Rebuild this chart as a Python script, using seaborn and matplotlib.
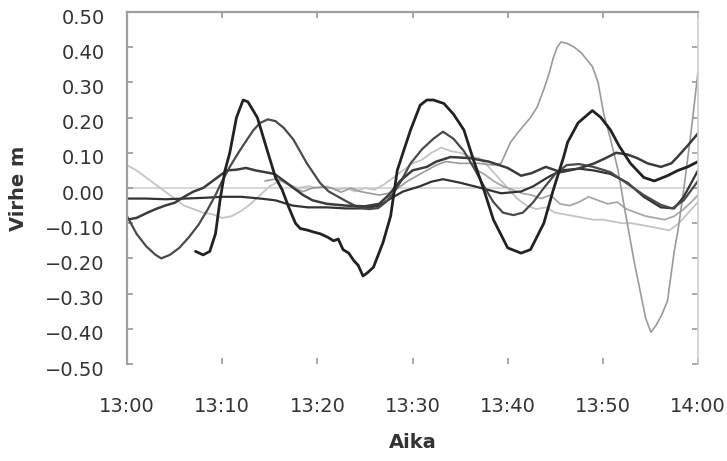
import matplotlib
matplotlib.use("Agg")
import matplotlib.pyplot as plt
import matplotlib.transforms as mtransforms
import seaborn as sns
import pandas as pd

# ---------------- data (minutes after 13:00, error in metres) ----------------
S1_T = [7.2, 8.0, 8.7, 9.3, 9.8, 10.3, 10.8, 11.5, 12.2, 12.7, 13.7, 14.7, 15.6, 16.3, 17.0, 17.7,
        18.2, 19.0, 19.6, 20.3, 21.1, 21.7, 22.2, 22.7, 23.3, 23.8, 24.3, 24.8, 25.3, 25.9, 26.4, 26.9,
        27.7, 28.4, 29.0, 29.8, 30.8, 31.5, 32.2, 33.3, 34.3, 35.4, 36.4, 37.5, 38.5, 40.0, 41.4, 42.4,
        43.8, 44.8, 45.9, 46.3, 47.4, 48.9, 49.8, 50.8, 51.7, 52.9, 54.3, 55.4, 56.8, 57.9, 58.9, 60.0]
S1_V = [-0.18, -0.19, -0.18, -0.13, -0.03, 0.05, 0.10, 0.20, 0.25, 0.245, 0.20, 0.11, 0.03, -0.005, -0.055, -0.10,
        -0.115, -0.12, -0.125, -0.13, -0.14, -0.15, -0.145, -0.175, -0.185, -0.205, -0.22, -0.25, -0.24, -0.225, -0.19, -0.155,
        -0.08, 0.05, 0.10, 0.165, 0.235, 0.25, 0.25, 0.24, 0.21, 0.165, 0.08, -0.005, -0.09, -0.17, -0.185, -0.175,
        -0.10, -0.005, 0.09, 0.13, 0.185, 0.22, 0.20, 0.165, 0.12, 0.07, 0.03, 0.02, 0.035, 0.05, 0.06, 0.075]

S2_T = [0, 1, 2, 3, 3.6, 4.5, 5.5, 6.5, 7.5, 8.5, 9.3, 10, 10.8, 11.7, 12.6, 13.3, 14, 14.8, 15.6, 16.5,
        17.5, 18.9, 20.3, 21.2, 22.2, 23.2, 24.3, 25.4, 26.4, 27.2, 28.0, 28.8, 29.8, 31, 32.2, 33.2, 34.3,
        35.4, 36.5, 37.5, 38.5, 39.5, 40.6, 41.6, 42.7, 43.8, 45, 46.2, 47.5, 49, 50.8, 52.7, 54.3, 56.1,
        57.3, 58.5, 60]
S2_V = [-0.08, -0.13, -0.165, -0.19, -0.20, -0.19, -0.17, -0.14, -0.105, -0.06, -0.02, 0.02, 0.06, 0.10, 0.137, 0.165, 0.185, 0.195, 0.19, 0.17,
        0.137, 0.07, 0.014, -0.01, -0.025, -0.04, -0.055, -0.06, -0.057, -0.04, -0.015, 0.02, 0.07, 0.11, 0.14, 0.16, 0.14,
        0.105, 0.055, 0.005, -0.04, -0.07, -0.077, -0.07, -0.04, 0.0, 0.04, 0.065, 0.068, 0.06, 0.045, 0.01, -0.02, -0.048,
        -0.058, -0.035, 0.02]

S3_T = [0, 2, 4, 6, 8, 10, 12, 14, 15.6, 17.4, 19, 21, 23, 25, 26.5, 27.7, 29, 30.8, 32, 33.2, 35, 37.2,
        39.3, 41.4, 42.7, 44.2, 45.6, 47.5, 49, 50.8, 52.6, 54.3, 56.1, 57.5, 58.5, 60]
S3_V = [-0.03, -0.03, -0.032, -0.03, -0.028, -0.025, -0.025, -0.03, -0.035, -0.05, -0.055, -0.055, -0.058, -0.058, -0.05, -0.03, -0.01, 0.005, 0.018, 0.025, 0.015, 0.0,
        -0.015, -0.01, 0.005, 0.03, 0.05, 0.055, 0.05, 0.04, 0.015, -0.025, -0.055, -0.058, -0.025, 0.05]

S4_T = [0, 1, 2, 3, 4, 5, 6, 7, 8, 9, 10, 10.5, 11.5, 12.5, 13.5, 14.5, 15.5, 16.5, 17.5, 18.5, 19.5,
        21, 23, 25, 26.5, 27.5, 28.7, 30, 31.5, 32.5, 34, 36, 38, 40, 41.4, 42.5, 44, 45.6, 47.4, 49.1,
        50.3, 51.4, 52.6, 53.6, 54.7, 56.1, 57.2, 57.9, 58.9, 60]
S4_V = [-0.09, -0.085, -0.072, -0.06, -0.05, -0.042, -0.025, -0.01, 0.0, 0.02, 0.04, 0.05, 0.052, 0.057, 0.05, 0.045, 0.04, 0.02, 0.0, -0.02, -0.035,
        -0.045, -0.05, -0.052, -0.045, -0.02, 0.02, 0.05, 0.06, 0.075, 0.088, 0.085, 0.075, 0.057, 0.035, 0.042, 0.06, 0.045, 0.055, 0.07,
        0.085, 0.10, 0.095, 0.085, 0.07, 0.06, 0.07, 0.09, 0.12, 0.155]

S5_T = [14.5, 15.5, 16.5, 17.5, 18.5, 19.5, 20.5, 21.5, 22.5, 23.5, 24.5, 25.5, 26.5, 27.5, 28.5, 29.5,
        30.5, 31.5, 32.5, 33.5, 35, 37, 38.5, 39.3, 40.3, 41.3, 42.4, 43.1, 43.8, 44.4, 44.8, 45.2, 45.6,
        46.3, 47.0, 47.7, 48.3, 48.9, 49.5, 50.1, 50.8, 51.6, 52.2, 52.7, 53.3, 53.9, 54.5, 55.05, 55.6,
        56.2, 56.8, 57.5, 57.9, 58.5, 59.3, 60]
S5_V = [0.02, 0.025, 0.02, 0.0, -0.01, 0.0, 0.003, 0.0, -0.012, 0.0, -0.01, -0.015, -0.02, -0.015, 0.0, 0.02,
        0.035, 0.05, 0.065, 0.075, 0.07, 0.07, 0.065, 0.07, 0.13, 0.165, 0.20, 0.23, 0.28, 0.33, 0.37, 0.40, 0.415,
        0.41, 0.40, 0.385, 0.365, 0.345, 0.30, 0.21, 0.14, 0.05, -0.045, -0.12, -0.21, -0.29, -0.37, -0.41, -0.39,
        -0.36, -0.32, -0.18, -0.12, -0.005, 0.165, 0.33]

S6_T = [36.5, 37.5, 38.5, 39.5, 40.5, 41.5, 42.5, 43.5, 44.5, 45.5, 46.5, 47.5, 48.5, 49.5, 50.5, 51.5,
        52.5, 53.5, 54.5, 55.5, 56.5, 57.5, 58.5, 59.3, 60]
S6_V = [0.055, 0.04, 0.02, 0.005, -0.005, -0.015, -0.02, -0.03, -0.02, -0.045, -0.05, -0.04, -0.025, -0.035, -0.045, -0.04,
        -0.06, -0.07, -0.08, -0.085, -0.09, -0.08, -0.06, -0.04, -0.02]

S7_T = list(range(0, 61))
S7_V = [0.065, 0.05, 0.03, 0.01, -0.01, -0.03, -0.05, -0.06, -0.07, -0.075, -0.085, -0.08, -0.065, -0.045, -0.02, 0.005,
        0.02, 0.01, 0.0, 0.005, 0.0, 0.005, -0.005, 0.0, -0.01, 0.0, -0.005, 0.01, 0.03, 0.05, 0.07, 0.08, 0.10,
        0.115, 0.105, 0.10, 0.09, 0.085, 0.06, 0.03, 0.0, -0.03, -0.05, -0.06, -0.055, -0.07, -0.075, -0.08, -0.085,
        -0.09, -0.09, -0.095, -0.10, -0.10, -0.105, -0.11, -0.115, -0.12, -0.10, -0.07, -0.04]

X_TICKS = [0, 10, 20, 30, 40, 50, 60]
X_LABELS = ["13:00", "13:10", "13:20", "13:30", "13:40", "13:50", "14:00"]
Y_TICKS = [0.5, 0.4, 0.3, 0.2, 0.1, 0.0, -0.1, -0.2, -0.3, -0.4, -0.5]
X_TITLE = "Aika"
Y_TITLE = "Virhe m"

SERIES = [
    ("S7", S7_T, S7_V, "#c4c4c4", 1.3),
    ("S6", S6_T, S6_V, "#a8a8a8", 1.3),
    ("S5", S5_T, S5_V, "#9a9a9a", 1.2),
    ("S3", S3_T, S3_V, "#333333", 1.6),
    ("S2", S2_T, S2_V, "#4a4a4a", 1.6),
    ("S4", S4_T, S4_V, "#3c3c3c", 1.8),
    ("S1", S1_T, S1_V, "#222222", 2.0),
]

# ---------------- plotting ----------------
sns.set_theme(style="white")
plt.rcParams["font.family"] = ["DejaVu Sans"]

fig = plt.figure(figsize=(7.27, 4.61), dpi=100)
ax = fig.add_axes([127 / 727, 1 - 364 / 461, (698 - 127) / 727, (364 - 12) / 461])

ax.axhline(0, color="#d4d4d4", lw=1.3, zorder=0)

for name, t, v, col, lw in SERIES:
    df = pd.DataFrame({"t": t, "v": v})
    sns.lineplot(data=df, x="t", y="v", ax=ax, color=col, lw=lw, sort=False,
                 estimator=None, legend=False)

ax.set_xlim(0, 60)
ax.set_ylim(-0.5, 0.5)

ax.set_xticks(X_TICKS)
ax.set_xticklabels(X_LABELS)
ax.set_yticks(Y_TICKS)
ax.set_yticklabels([("%.2f" % y).replace("-", "\u2212") if abs(y) > 1e-9 else "0.00" for y in Y_TICKS])

txt = "#333333"
ax.tick_params(axis="x", which="both", bottom=True, top=True, direction="in", length=4,
               width=1.2, color="#999999", pad=24, labelsize=14, labelcolor=txt)
ax.tick_params(axis="y", which="both", left=True, right=True, direction="in", length=4,
               width=1.2, color="#999999", pad=16, labelsize=14, labelcolor=txt)

for side in ["left", "top"]:
    ax.spines[side].set_color("#a0a0a0")
    ax.spines[side].set_linewidth(1.6)
ax.spines["right"].set_color("#d0d0d0")
ax.spines["right"].set_linewidth(1.2)
ax.spines["bottom"].set_visible(False)

ax.set_xlabel(X_TITLE, fontsize=14, fontweight="bold", color=txt, labelpad=12)
ax.set_ylabel(Y_TITLE, fontsize=14, fontweight="bold", color=txt, labelpad=12)

off = mtransforms.ScaledTranslation(0, -4 / 100, fig.dpi_scale_trans)
for lab in ax.get_yticklabels():
    lab.set_transform(lab.get_transform() + off)

fig.savefig("out.png", dpi=100, facecolor="white")
